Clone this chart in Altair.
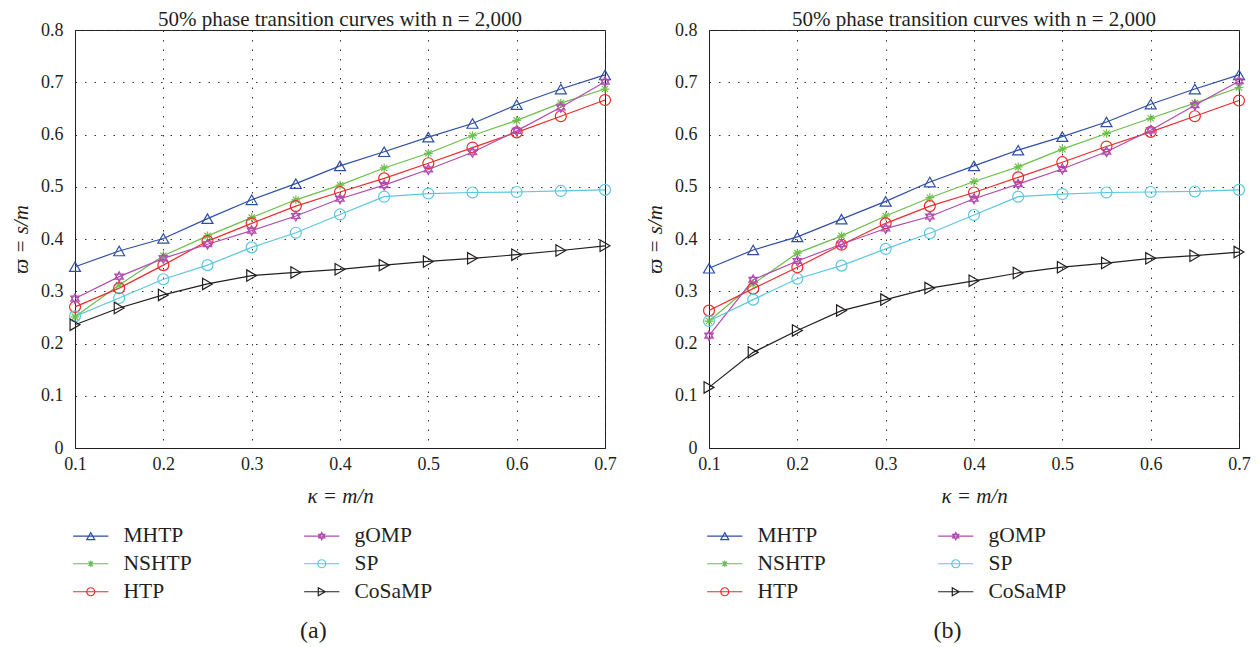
import altair as alt
import pandas as pd

kappa = [0.1, 0.15, 0.2, 0.25, 0.3, 0.35, 0.4, 0.45, 0.5, 0.55, 0.6, 0.65, 0.7]
methods = ["MHTP", "NSHTP", "HTP", "gOMP", "SP", "CoSaMP"]

# Panel (a)
a_MHTP = [0.347, 0.377, 0.401, 0.439, 0.475, 0.506, 0.540, 0.567, 0.595, 0.621, 0.657, 0.687, 0.714]
a_NSHTP = [0.251, 0.312, 0.368, 0.406, 0.441, 0.475, 0.503, 0.536, 0.564, 0.598, 0.627, 0.660, 0.687]
a_HTP = [0.270, 0.306, 0.350, 0.396, 0.430, 0.463, 0.490, 0.516, 0.545, 0.575, 0.604, 0.635, 0.666]
a_gOMP = [0.286, 0.328, 0.363, 0.390, 0.416, 0.444, 0.477, 0.503, 0.533, 0.566, 0.607, 0.652, 0.701]
a_SP = [0.252, 0.287, 0.323, 0.350, 0.384, 0.412, 0.447, 0.481, 0.487, 0.489, 0.490, 0.492, 0.494]
a_CoSaMP = [0.236, 0.268, 0.293, 0.314, 0.330, 0.336, 0.342, 0.350, 0.357, 0.363, 0.370, 0.378, 0.387]

# Panel (b)
b_MHTP = [0.344, 0.379, 0.404, 0.438, 0.472, 0.509, 0.540, 0.570, 0.596, 0.624, 0.658, 0.687, 0.714]
b_NSHTP = [0.243, 0.314, 0.373, 0.406, 0.444, 0.479, 0.510, 0.538, 0.572, 0.602, 0.631, 0.660, 0.690]
b_HTP = [0.263, 0.305, 0.346, 0.389, 0.430, 0.463, 0.489, 0.518, 0.547, 0.577, 0.605, 0.635, 0.665]
b_gOMP = [0.215, 0.322, 0.358, 0.390, 0.420, 0.443, 0.477, 0.505, 0.534, 0.567, 0.608, 0.656, 0.702]
b_SP = [0.243, 0.284, 0.324, 0.349, 0.381, 0.411, 0.446, 0.481, 0.486, 0.489, 0.490, 0.491, 0.494]
b_CoSaMP = [0.116, 0.183, 0.225, 0.263, 0.284, 0.306, 0.320, 0.335, 0.346, 0.354, 0.363, 0.368, 0.375]

x_ticks = [0.1, 0.2, 0.3, 0.4, 0.5, 0.6, 0.7]
y_ticks = [0, 0.1, 0.2, 0.3, 0.4, 0.5, 0.6, 0.7, 0.8]

title_text = "50% phase transition curves with n = 2,000"
x_title = "κ = m/n"
y_title = "ϖ = s/m"

colors = {
    "MHTP": "#2f4fa6",
    "NSHTP": "#6cbf4a",
    "HTP": "#ee2a2a",
    "gOMP": "#b24cae",
    "SP": "#5cc7df",
    "CoSaMP": "#231f20",
}

markers = {
    "MHTP": "triangle-up",
    "NSHTP": "M-0.8,0H0.8M0,-0.8V0.8M-0.57,-0.57L0.57,0.57M-0.57,0.57L0.57,-0.57",
    "HTP": "circle",
    "gOMP": "M0,-0.9L0.78,0.45L-0.78,0.45ZM0,0.9L0.78,-0.45L-0.78,-0.45Z",
    "SP": "circle",
    "CoSaMP": "triangle-right",
}

LINE = "M-4.4,0H4.4"
legend_paths = {
    "MHTP": LINE + "M0,-0.87L1,0.87L-1,0.87Z",
    "NSHTP": LINE + "M-0.8,0H0.8M0,-0.8V0.8M-0.57,-0.57L0.57,0.57M-0.57,0.57L0.57,-0.57",
    "HTP": LINE + "M1,0A1,1 0 1,1 -1,0A1,1 0 1,1 1,0Z",
    "gOMP": LINE + "M0,-0.9L0.78,0.45L-0.78,0.45ZM0,0.9L0.78,-0.45L-0.78,-0.45Z",
    "SP": LINE + "M1,0A1,1 0 1,1 -1,0A1,1 0 1,1 1,0Z",
    "CoSaMP": LINE + "M0.87,0L-0.87,-1L-0.87,1Z",
}

FONT = "Liberation Serif"
TXT = "#231f20"


def panel(series, caption):
    rows = []
    for m in methods:
        for k, v in zip(kappa, series[m]):
            rows.append({"kappa": k, "value": v, "method": m})
    df = pd.DataFrame(rows)

    color_scale = alt.Scale(domain=methods, range=[colors[m] for m in methods])
    xs = alt.Scale(domain=[0.1, 0.7], nice=False, zero=False)
    ys = alt.Scale(domain=[0, 0.8], nice=False, zero=False)
    xenc = alt.X("kappa:Q", scale=xs,
                 axis=alt.Axis(values=x_ticks, format=".1f", title=x_title, labelFlush=False))
    yenc = alt.Y("value:Q", scale=ys,
                 axis=alt.Axis(values=y_ticks, title=y_title, labelFlush=False,
                               labelExpr="datum.value == 0 ? '0' : format(datum.value, '.1f')"))

    base = alt.Chart(df)
    layers = []
    for m in methods:
        sub = base.transform_filter(alt.datum.method == m)
        layers.append(sub.mark_line(strokeWidth=1.2, color=colors[m]).encode(x=xenc, y=yenc))
    for m in methods:
        size = 120 if m != "CoSaMP" else 130
        sub = base.transform_filter(alt.datum.method == m)
        layers.append(
            sub.mark_point(shape=markers[m], filled=False, size=size, strokeWidth=1.2,
                           opacity=1, color=colors[m])
            .encode(x=xenc, y=yenc)
        )
    leg = dict(
        orient="none", legendX=0, legendY=495, columns=2, columnPadding=109,
        rowPadding=5, title=None, labelFont=FONT, labelFontSize=21.5, labelColor=TXT,
        symbolSize=64, symbolStrokeWidth=1.2, symbolOffset=5, labelOffset=22,
    )
    legend_layer = base.transform_filter("false").mark_point(filled=False, opacity=1).encode(
        x=xenc, y=yenc,
        color=alt.Color("method:N", scale=color_scale, legend=alt.Legend(**leg)),
        shape=alt.Shape("method:N",
                        scale=alt.Scale(domain=methods,
                                        range=[legend_paths[m] for m in methods]),
                        legend=alt.Legend(**leg)),
    )
    layers.append(legend_layer)
    lay = alt.layer(*layers).properties(
        width=530, height=418,
        title=alt.TitleParams(title_text, anchor="middle", frame="group", font=FONT,
                              fontSize=21, fontWeight="normal", color=TXT, offset=-9),
    )
    return alt.vconcat(
        lay,
        title=alt.TitleParams(caption, orient="bottom", anchor="middle", frame="bounds",
                              font=FONT, fontSize=24, fontWeight="normal", color=TXT, offset=15),
    ).resolve_scale(color="independent", shape="independent")


series_a = {"MHTP": a_MHTP, "NSHTP": a_NSHTP, "HTP": a_HTP, "gOMP": a_gOMP, "SP": a_SP, "CoSaMP": a_CoSaMP}
series_b = {"MHTP": b_MHTP, "NSHTP": b_NSHTP, "HTP": b_HTP, "gOMP": b_gOMP, "SP": b_SP, "CoSaMP": b_CoSaMP}

chart = alt.hconcat(panel(series_a, "(a)"), panel(series_b, "(b)"), spacing=27).resolve_scale(
    color="independent", shape="independent"
).properties(
    padding={"left": 2, "top": 0, "right": 0, "bottom": 0}
).configure_view(stroke="#231f20", strokeWidth=1).configure_axis(
    labelFont=FONT, labelFontSize=18, labelColor=TXT,
    titleFont=FONT, titleFontSize=21, titleFontWeight="normal", titleFontStyle="italic", titleColor=TXT,
    domainColor=TXT, domainWidth=1, ticks=False, labelPadding=7, titlePadding=12,
    grid=True, gridColor="#333333", gridDash=[1.5, 8], gridWidth=1, gridOpacity=1,
).configure_axisY(titlePadding=9, labelPadding=12)

chart.save("out.html", embed_options={"renderer": "svg", "actions": False})
